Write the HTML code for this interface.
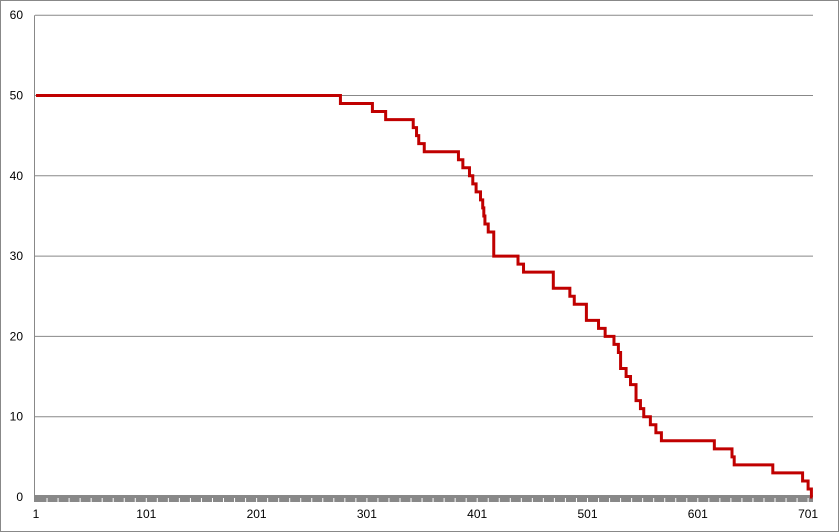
<!DOCTYPE html>
<html><head><meta charset="utf-8"><style>
html,body{margin:0;padding:0;background:#fff;}
svg{display:block;font-family:"Liberation Sans",sans-serif;}
</style></head><body>
<svg id="chart" width="839" height="532" viewBox="0 0 839 532">
<rect x="0.5" y="0.5" width="838" height="531" fill="#fff" stroke="#888"/>
<g id="grid"></g><g id="axes"></g><g id="series"></g>
</svg>
<script>
const yTicks=[0,10,20,30,40,50,60];
const xTickLabels=[1,101,201,301,401,501,601,701];
const stepIndex=[1,277,306,318,343,346,348,353,384,388,394,397,400,404,406,407,408,411,416,438,443,470,485,489,500,511,517,525,529,531,536,540,545,549,552,558,563,568,616,632,634,669,696,701,704];
const stepValue=[50,49,48,47,46,45,44,43,42,41,40,39,38,37,36,35,34,33,30,29,28,26,25,24,22,21,20,19,18,16,15,14,12,11,10,9,8,7,6,5,4,3,2,1,0];
const lastIndex=705;
const NS="http://www.w3.org/2000/svg";
function xs(i){return 36+(i-1)*1.103;}
function ys(v){return 497-v*8.03;}
function mk(tag,attrs,parent){const e=document.createElementNS(NS,tag);for(const k in attrs)e.setAttribute(k,attrs[k]);parent.appendChild(e);return e;}
const grid=document.getElementById('grid'),axes=document.getElementById('axes'),series=document.getElementById('series');
yTicks.forEach(v=>{
  if(v>0){const l=mk('line',{x1:35,x2:813,y1:ys(v),y2:ys(v),stroke:'#888','stroke-width':1},grid);
  
  }
  const t=mk('text',{x:23,y:ys(v)+4,'text-anchor':'end','font-size':12,fill:'#000'},axes);
  t.textContent=v;
  
  
});
const ya=mk('line',{x1:34.5,x2:34.5,y1:ys(60),y2:502,stroke:'#888','stroke-width':1},axes);


const band=mk('rect',{x:35,y:495,width:778,height:7,fill:'#888'},axes);


for(let i=11;i<lastIndex;i+=10){mk('line',{x1:xs(i),x2:xs(i),y1:498,y2:502,stroke:'#fff','stroke-width':1},axes);}
xTickLabels.forEach(v=>{
  const t=mk('text',{x:xs(v),y:518,'text-anchor':'middle','font-size':12,fill:'#000'},axes);
  t.textContent=v;
  
  
});
let d='M'+xs(stepIndex[0])+' '+ys(stepValue[0]);
for(let k=1;k<stepIndex.length;k++){
  d+=' L'+xs(stepIndex[k])+' '+ys(stepValue[k-1])+' L'+xs(stepIndex[k])+' '+ys(stepValue[k]);
}
d+=' L'+xs(lastIndex)+' '+ys(stepValue[stepValue.length-1]);
const p=mk('path',{d:d,fill:'none',stroke:'#c00000','stroke-width':3,'stroke-linejoin':'miter'},series);


</script>
</body></html>
